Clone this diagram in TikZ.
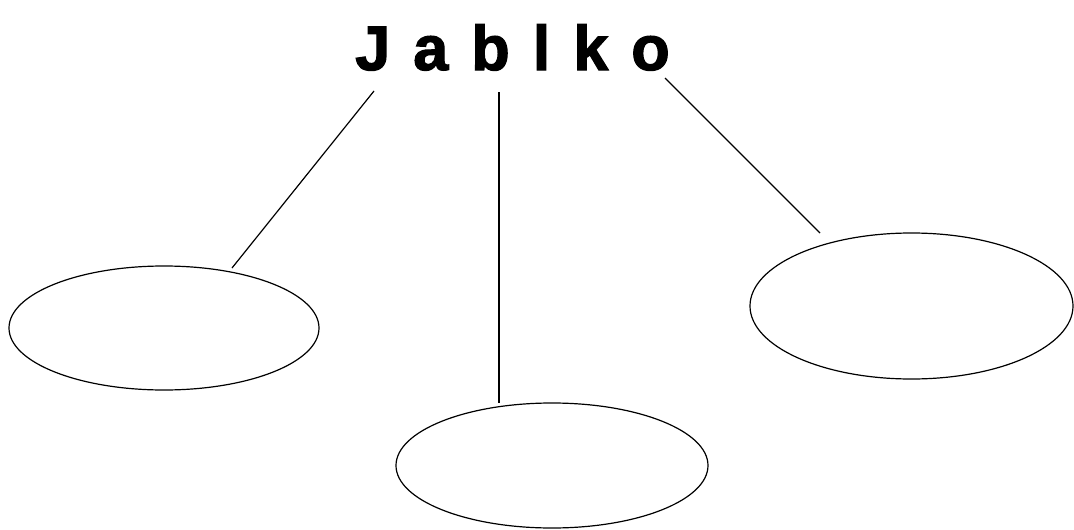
\documentclass[tikz,border=0pt]{standalone}
\usepackage{fontspec}
\setmainfont{Liberation Sans}
\newfontfamily\titlefont[FakeBold=2]{Liberation Sans Bold}
\usetikzlibrary{shapes.geometric}
\begin{document}
\begin{tikzpicture}[x=1pt,y=-1pt,
  bubble/.style={draw,ellipse,line width=1.2pt,inner sep=0pt},
  link/.style={draw,line width=1.2pt},
  titletext/.style={font=\titlefont\fontsize{63}{63}\selectfont,inner sep=0pt,anchor=base}]
\useasboundingbox (0,0) rectangle (1074,530);
\node[titletext] (title) at (512.5,70) {\spaceskip=23pt J a b l k o};
\node[bubble,minimum width=310pt,minimum height=124pt] (left) at (164,328) {};
\node[bubble,minimum width=312pt,minimum height=125pt] (bottom) at (552,465.5) {};
\node[bubble,minimum width=323pt,minimum height=146pt] (right) at (911.5,306) {};
\coordinate (t1) at (374,91);
\coordinate (t2) at (499,92);
\coordinate (t3) at (665,78);
\coordinate (e1) at (232,268);
\coordinate (e2) at (499,403);
\coordinate (e3) at (820,233);
\draw[link] (t1) -- (e1);
\draw[link] (t2) -- (e2);
\draw[link] (t3) -- (e3);
\end{tikzpicture}
\end{document}
